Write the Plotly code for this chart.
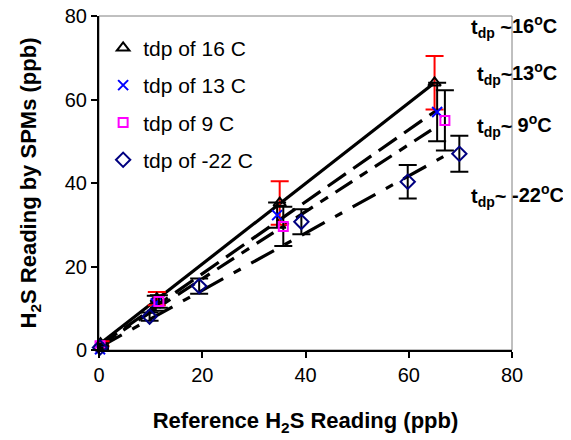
import plotly.graph_objects as go

# data
ref_16 = [0.3, 11.2, 35.0, 65.0]
spm_16 = [1.5, 12.3, 35.2, 64.0]
err_16 = [0.6, 1.6, 5.2, 6.4]

ref_13 = [0.2, 11.0, 34.5, 65.5]
spm_13 = [0.2, 11.2, 32.3, 57.0]
err_13 = [0.5, 1.8, 3.0, 7.0]

ref_9 = [0.2, 11.6, 35.7, 67.0]
spm_9 = [1.0, 11.6, 29.6, 55.0]
err_9 = [0.5, 1.5, 4.7, 7.2]

ref_m22 = [0.2, 9.8, 19.4, 39.2, 59.8, 69.8]
spm_m22 = [0.6, 8.0, 15.3, 30.7, 40.3, 47.0]
err_m22 = [0.5, 1.0, 1.8, 3.0, 4.0, 4.3]

# trend line end points
trend_x = {"16": [0, 65.0], "13": [0, 65.5], "9": [0, 64.5], "-22": [0, 66.7]}
trend_y = {"16": [1.3, 64.0], "13": [1.0, 57.5], "9": [1.0, 52.8], "-22": [0.6, 46.3]}
trend_dash = {"16": "solid", "13": "22px,9px", "9": "20px,9px,9px,9px", "-22": "26px,12px,8px,12px"}

labels_left = ["t<sub>dp</sub> ~", "t<sub>dp</sub>~", "t<sub>dp</sub>~", "t<sub>dp</sub>~ "]
labels_right = ["16<sup>o</sup>C", "13<sup>o</sup>C", " 9<sup>o</sup>C", "-22<sup>o</sup>C"]
labels_y = [78, 66.7, 54.2, 37.6]

FONT = "Liberation Sans, Arial, sans-serif"

fig = go.Figure()

for k in ["16", "13", "9", "-22"]:
    fig.add_trace(go.Scatter(x=trend_x[k], y=trend_y[k], mode="lines",
                             line=dict(color="black", width=3.2, dash=trend_dash[k]),
                             showlegend=False, hoverinfo="skip"))

series = [
    ("tdp of 16 C", ref_16, spm_16, err_16, "triangle-up-open", "black", "red", 11),
    ("tdp of 13 C", ref_13, spm_13, err_13, "x-thin-open", "blue", "black", 10),
    ("tdp of 9 C", ref_9, spm_9, err_9, "square-open", "magenta", "black", 9),
    ("tdp of -22 C", ref_m22, spm_m22, err_m22, "diamond-open", "#000080", "black", 11),
]
for i, (name, xs, ys, es, sym, col, ecol, sz) in enumerate(series):
    fig.add_trace(go.Scatter(
        x=xs, y=ys, mode="markers", name=name, legendgroup=str(i),
        marker=dict(symbol=sym, size=sz, color=col, line=dict(color=col, width=2)),
        error_y=dict(type="data", array=es, visible=True, color=ecol, thickness=2, width=9),
        cliponaxis=False))

for txt_l, txt_r, yy in zip(labels_left, labels_right, labels_y):
    fig.add_annotation(x=1, xref="paper", y=yy, yref="y", text="<b>" + txt_l + "</b>",
                       xanchor="right", yanchor="middle", showarrow=False,
                       font=dict(family=FONT, size=20, color="black"), xshift=2, yshift=-4)
    fig.add_annotation(x=1, xref="paper", y=yy, yref="y", text="<b>" + txt_r + "</b>",
                       xanchor="left", yanchor="middle", showarrow=False,
                       font=dict(family=FONT, size=20, color="black"), xshift=-2)

fig.add_shape(type="rect", xref="paper", yref="paper", x0=0, x1=1, y0=0, y1=1,
              line=dict(color="#808080", width=1), layer="below")

fig.update_layout(
    width=563, height=432,
    margin=dict(l=91, r=59, t=8, b=90, autoexpand=False),
    plot_bgcolor="white", paper_bgcolor="white",
    font=dict(family=FONT, color="black"),
    showlegend=True,
    legend=dict(x=0.01, y=0.965, xanchor="left", yanchor="top", bgcolor="rgba(0,0,0,0)",
                font=dict(size=21), tracegroupgap=7, traceorder="grouped"),
    xaxis=dict(range=[0, 80], tickvals=[0, 20, 40, 60, 80], showgrid=False, zeroline=False,
               showline=True, linecolor="black", linewidth=2, ticks="outside", ticklen=6,
               tickwidth=1.5, tickcolor="black", tickfont=dict(size=20), automargin=False,
               ticklabeloverflow="allow",
               title=dict(text="<b>Reference H<sub>2</sub>S Reading (ppb)</b>",
                          font=dict(size=22), standoff=28)),
    yaxis=dict(range=[0, 80], tickvals=[0, 20, 40, 60, 80], showgrid=False, zeroline=False,
               showline=True, linecolor="black", linewidth=2, ticks="outside", ticklen=6,
               tickwidth=1.5, tickcolor="black", tickfont=dict(size=20), automargin=False,
               ticklabeloverflow="allow",
               title=dict(text="<b>H<sub>2</sub>S Reading by SPMs (ppb)</b>",
                          font=dict(size=22), standoff=22)),
)

fig.write_html("out.html")
